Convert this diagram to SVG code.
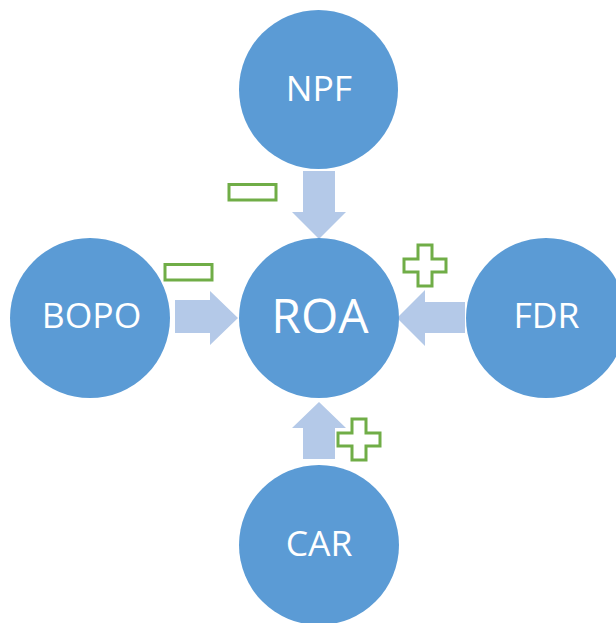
<svg xmlns="http://www.w3.org/2000/svg" width="616" height="623" viewBox="0 0 616 623">
  <style>
    .node circle { fill: #5B9BD5; }
    .node text { fill: #FFFFFF; font-family: "Open Sans", "Noto Sans", sans-serif; font-size: 35.5px; text-anchor: middle; }
    .node.main text { font-size: 48px; }
    .arrow { fill: #B4C9E8; }
    .sign { fill: #FFFFFF; stroke: #70AD47; stroke-width: 3; }
  </style>
  <rect width="616" height="623" fill="#FFFFFF"/>

  <!-- block arrows pointing into ROA -->
  <g id="connectors">
    <polygon class="arrow" points="303,171 335,171 335,212 346,212 319,239 292,212 303,212"/>
    <polygon class="arrow" points="175,300 210,300 210,291 238,318 210,345 210,333 175,333"/>
    <polygon class="arrow" points="465,302 425,302 425,290 397,318 425,346 425,333 465,333"/>
    <polygon class="arrow" points="303,459 335,459 335,428 346,428 319,402 292,428 303,428"/>
  </g>

  <!-- effect signs -->
  <g id="signs">
    <rect class="sign" x="229" y="184.5" width="47" height="15.5"/>
    <rect class="sign" x="165" y="264.5" width="47" height="15.5"/>
    <polygon class="sign" points="418,245 432,245 432,259 446,259 446,272 432,272 432,286 418,286 418,272 404,272 404,259 418,259"/>
    <polygon class="sign" points="352,419 366,419 366,433 380,433 380,446 366,446 366,460 352,460 352,446 338,446 338,433 352,433"/>
  </g>

  <g id="node-npf" class="node">
    <circle cx="318.5" cy="89.5" r="79.5"/>
    <text x="319" y="101">NPF</text>
  </g>
  <g id="node-roa" class="node main">
    <circle cx="319" cy="318" r="80"/>
    <text x="320" y="333">ROA</text>
  </g>
  <g id="node-bopo" class="node">
    <circle cx="90" cy="318" r="80"/>
    <text x="91.5" y="328">BOPO</text>
  </g>
  <g id="node-fdr" class="node">
    <circle cx="546" cy="318" r="80"/>
    <text x="546.5" y="328">FDR</text>
  </g>
  <g id="node-car" class="node">
    <circle cx="319" cy="545" r="80"/>
    <text x="319" y="556">CAR</text>
  </g>
</svg>
